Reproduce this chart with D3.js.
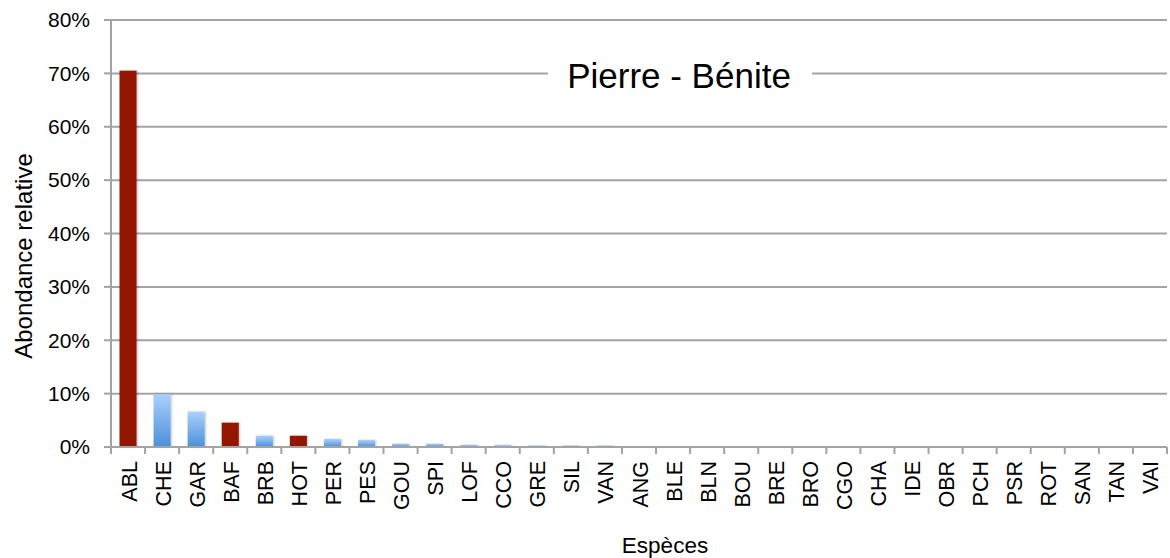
<!DOCTYPE html>
<html>
<head>
<meta charset="utf-8">
<script src="https://cdn.jsdelivr.net/npm/d3@7"></script>
<style>
  html, body { margin: 0; padding: 0; background: #fff; }
  svg { display: block; font-family: "Liberation Sans", Arial, Helvetica, sans-serif; }
</style>
</head>
<body>
<svg id="chart" width="1170" height="558"></svg>
<script>
const categories = ["ABL","CHE","GAR","BAF","BRB","HOT","PER","PES","GOU","SPI","LOF","CCO","GRE","SIL","VAN","ANG","BLE","BLN","BOU","BRE","BRO","CGO","CHA","IDE","OBR","PCH","PSR","ROT","SAN","TAN","VAI"];
const values = [0.705,0.099,0.066,0.0455,0.021,0.021,0.015,0.013,0.006,0.006,0.004,0.0035,0.003,0.003,0.003,0,0,0,0,0,0,0,0,0,0,0,0,0,0,0,0];
const highlighted = ["ABL","BAF","HOT"];
const yTicks = [0,0.1,0.2,0.3,0.4,0.5,0.6,0.7,0.8];
const title = "Pierre - Bénite";
const yTitle = "Abondance relative";
const xTitle = "Espèces";

const W = 1170, H = 558;
const margin = {left: 111, right: 3, top: 20, bottom: 111};
const svg = d3.select("#chart");

const x = d3.scaleBand().domain(categories).range([margin.left, W - margin.right]).paddingInner(0.5).paddingOuter(0.25);
const y = d3.scaleLinear().domain([0, 0.8]).range([H - margin.bottom, margin.top]);

const defs = svg.append("defs");
const grad = defs.append("linearGradient").attr("id", "blueGrad").attr("x1", 0).attr("y1", 0).attr("x2", 0).attr("y2", 1);
grad.append("stop").attr("offset", "0%").attr("stop-color", "#aad0fc");
grad.append("stop").attr("offset", "100%").attr("stop-color", "#4a90da");
const f = defs.append("filter").attr("id", "shadow").attr("x", "-50%").attr("y", "-10%").attr("width", "200%").attr("height", "120%");
f.append("feDropShadow").attr("dx", 1).attr("dy", 0).attr("stdDeviation", 1).attr("flood-color", "#000").attr("flood-opacity", 0.25);

// gridlines
svg.append("g").selectAll("line").data(yTicks.filter(d => d > 0)).join("line")
  .attr("x1", margin.left).attr("x2", W - margin.right)
  .attr("y1", d => y(d)).attr("y2", d => y(d))
  .attr("stroke", "#a3a3a3").attr("stroke-width", 2);

// bars
svg.append("g").selectAll("rect").data(categories.map((c, i) => ({c, v: values[i]})).filter(d => d.v > 0)).join("rect")
  .attr("x", d => x(d.c))
  .attr("width", x.bandwidth())
  .attr("y", d => y(d.v))
  .attr("height", d => y(0) - y(d.v))
  .attr("fill", d => highlighted.includes(d.c) ? "#921200" : "url(#blueGrad)")
  .attr("filter", "url(#shadow)");

// x axis (ticks at band boundaries)
const step = (W - margin.right - margin.left) / categories.length;
const boundaries = d3.range(categories.length + 1).map(i => margin.left + i * step);
const xAxisG = svg.append("g");
xAxisG.append("line").attr("x1", margin.left).attr("x2", W - margin.right)
  .attr("y1", y(0)).attr("y2", y(0)).attr("stroke", "#a3a3a3").attr("stroke-width", 2);
xAxisG.selectAll("line.tick").data(boundaries).join("line").attr("class", "tick")
  .attr("x1", d => d).attr("x2", d => d).attr("y1", y(0)).attr("y2", y(0) + 7)
  .attr("stroke", "#a3a3a3").attr("stroke-width", 2);
xAxisG.selectAll("text").data(categories).join("text")
  .attr("transform", d => `translate(${x(d) + x.bandwidth() / 2 + 1},${y(0) + 14}) rotate(-90)`)
  .attr("text-anchor", "end").attr("dy", "0.35em")
  .attr("font-size", 21.5).attr("fill", "#000").text(d => d);

// y axis
const yAxisG = svg.append("g");
yAxisG.append("line").attr("x1", margin.left).attr("x2", margin.left)
  .attr("y1", y(0.8)).attr("y2", y(0) + 7).attr("stroke", "#a3a3a3").attr("stroke-width", 2);
yAxisG.selectAll("line.tick").data(yTicks).join("line").attr("class", "tick")
  .attr("x1", margin.left - 7).attr("x2", margin.left).attr("y1", d => y(d)).attr("y2", d => y(d))
  .attr("stroke", "#a3a3a3").attr("stroke-width", 2);
yAxisG.selectAll("text").data(yTicks).join("text")
  .attr("x", 90).attr("y", d => y(d)).attr("dy", "0.35em").attr("text-anchor", "end")
  .attr("font-size", 21).attr("fill", "#000").text(d => d3.format(".0%")(d));

// title with white box
const tx = 679, ty = y(0.7);
svg.append("rect").attr("x", 548).attr("y", ty - 25).attr("width", 264).attr("height", 50).attr("fill", "#fff");
svg.append("text").attr("x", tx).attr("y", 88).attr("text-anchor", "middle")
  .attr("font-size", 35).attr("fill", "#000").text(title);

// axis titles
svg.append("text").attr("transform", `translate(32,256) rotate(-90)`).attr("text-anchor", "middle")
  .attr("font-size", 24).attr("fill", "#000").text(yTitle);
svg.append("text").attr("x", 665).attr("y", 553).attr("text-anchor", "middle")
  .attr("font-size", 22.5).attr("fill", "#000").text(xTitle);
</script>
</body>
</html>
